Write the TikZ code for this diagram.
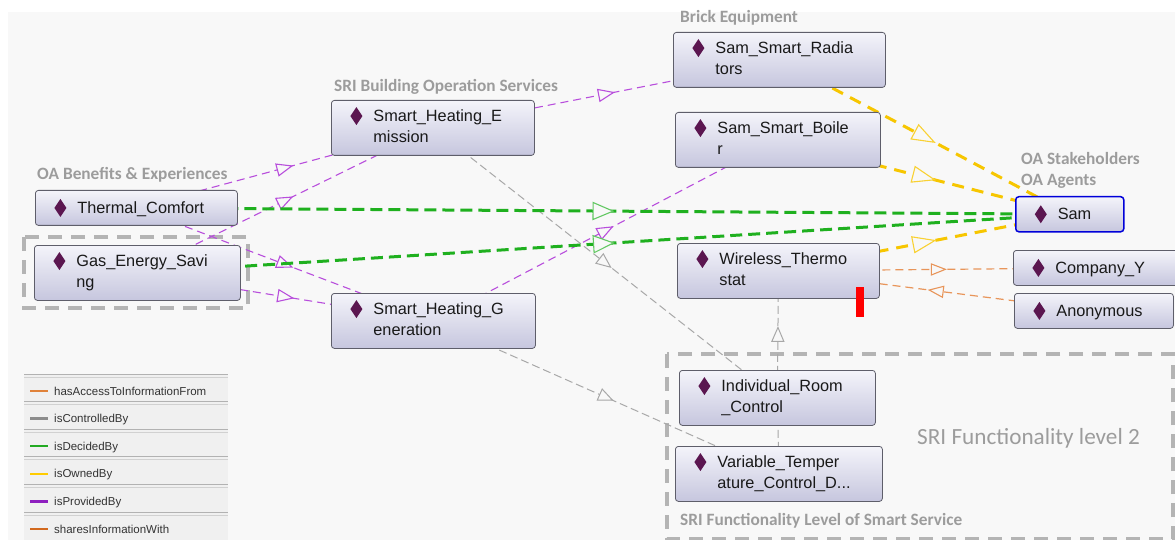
\documentclass[tikz,border=0pt]{standalone}
\usepackage{fontspec}
\setmainfont{Liberation Sans}
\newfontfamily\headfont{Carlito}
\usetikzlibrary{decorations.markings,backgrounds}

\definecolor{panel}{HTML}{F8F8F8}
\definecolor{legbg}{HTML}{F0F0F0}
\definecolor{boxtop}{HTML}{F4F4FA}
\definecolor{boxbot}{HTML}{C6C6DE}
\definecolor{boxline}{HTML}{5E5E6A}
\definecolor{diacol}{HTML}{5B1650}
\definecolor{headgray}{HTML}{9C9C9C}
\definecolor{provcol}{HTML}{B84EDC}
\definecolor{ctrlcol}{HTML}{A8A8A8}
\definecolor{decicol}{HTML}{1FB01F}
\definecolor{owncol}{HTML}{F7C600}
\definecolor{accesscol}{HTML}{E8955A}
\definecolor{framegray}{HTML}{B4B4B4}

% diamond in front of every individual
\newcommand{\dia}{\tikz[baseline=-5.5pt]\fill[diacol, sharp corners] (0pt,9pt)--(6pt,0pt)--(0pt,-9pt)--(-6pt,0pt)--cycle;}
\newcommand{\indiv}[2]{\begin{tabular}{@{}l@{\hspace{11pt}}l@{}}\dia&#1\\&#2\end{tabular}}
\newcommand{\indivone}[1]{\dia\hspace{11pt}#1}

\begin{document}
\begin{tikzpicture}[x=1pt,y=-1pt,
  box/.style={draw=boxline, line width=0.8pt, rounded corners=3pt, top color=boxtop, bottom color=boxbot,
    anchor=north west, inner xsep=19pt, inner ysep=0pt, minimum height=35pt, align=left,
    text=black!90, font=\fontsize{16.3}{21}\selectfont},
  tall/.style={minimum height=55pt},
  head/.style={anchor=base west, inner sep=0pt, text=headgray, font=\headfont\bfseries\fontsize{17.3}{21}\selectfont},
  frame/.style={draw=framegray, line width=4pt, dash pattern=on 14pt off 9pt},
  mid/.style n args={4}{postaction={decorate}, decoration={markings, mark=at position 0.5 with
    {\draw[draw=#1, solid, fill=panel, line width=#4, line join=miter] (#2,0pt) -- (-#2,#3) -- (-#2,-#3) -- cycle;}}},
  provby/.style={draw=provcol, line width=1.1pt, dash pattern=on 8pt off 5pt, mid={provcol}{7.5pt}{6pt}{1.1pt}},
  ctrlby/.style={draw=ctrlcol, line width=1pt, dash pattern=on 8pt off 4pt, mid={ctrlcol}{7pt}{6pt}{1pt}},
  decby/.style={draw=decicol, line width=3pt, dash pattern=on 12pt off 6pt, mid={decicol!70!white}{10pt}{8.5pt}{1.1pt}},
  ownby/.style={draw=owncol, line width=3pt, dash pattern=on 12pt off 8pt, mid={owncol!80!white}{11pt}{8pt}{1.1pt}},
  accessto/.style={draw=accesscol, line width=1.2pt, dash pattern=on 8pt off 5pt, mid={accesscol}{7pt}{5.5pt}{1.1pt}},
  legtext/.style={anchor=base west, inner sep=0pt, font=\fontsize{11.5}{13}\selectfont, text=black!80},
  legsep/.style={draw=black!30, line width=0.8pt}]
\useasboundingbox (0,0) rectangle (1175,540);

% individuals
\node[box, text width=164pt] (tc) at (35,190) {\indivone{Thermal\_Comfort}};
\node[box, tall, text width=168pt] (ges) at (34,245) {\indiv{Gas\_Energy\_Savi}{ng}};
\node[box, tall, text width=165pt] (she) at (331,100) {\indiv{Smart\_Heating\_E}{mission}};
\node[box, tall, text width=166pt] (shg) at (331,293) {\indiv{Smart\_Heating\_G}{eneration}};
\node[box, tall, text width=174pt] (ssr) at (673,32) {\indiv{Sam\_Smart\_Radia}{tors}};
\node[box, tall, text width=167pt] (ssb) at (675,112) {\indiv{Sam\_Smart\_Boile}{r}};
\node[box, tall, text width=164pt] (wt) at (677,243) {\indiv{Wireless\_Thermo}{stat}};
\node[box, tall, text width=158pt] (irc) at (679,370) {\indiv{Individual\_Room}{\_Control}};
\node[box, tall, text width=169pt] (vtc) at (675,446) {\indiv{Variable\_Temper}{ature\_Control\_D...}};
\node[box, draw=blue!85!black, line width=1.5pt, text width=70pt] (sam) at (1015,196) {\indivone{Sam}};
\node[box, text width=132pt] (cy) at (1013,250) {\indivone{Company\_Y}};
\node[box, text width=121pt] (anon) at (1014,293) {\indivone{Anonymous}};

\begin{scope}[on background layer]
% canvas
\fill[panel] (8,12) rectangle (1175,540);
\draw[frame] (24,237) rectangle (248,308);
\draw[frame] (667,354) rectangle (1173,539);
% relations
\draw[provby] (tc.center) -- (she.center);
\draw[provby] (ges.center) -- (she.center);
\draw[provby] (tc.center) -- (shg.center);
\draw[provby] (ges.center) -- (shg.center);
\draw[provby] (she.center) -- (ssr.center);
\draw[provby] (shg.center) -- (ssb.center);
\draw[ctrlby] (she.center) -- (irc.center);
\draw[ctrlby] (shg.center) -- (vtc.center);
\draw[ctrlby] (irc.center) -- (wt.center);
\draw[ctrlcol, line width=1pt, dash pattern=on 8pt off 4pt] (vtc.center) -- (irc.center);
\draw[decby] (tc.center) -- (sam.center);
\draw[decby] (ges.center) -- (sam.center);
\draw[ownby] (ssr.center) -- (sam.center);
\draw[ownby] (ssb.center) -- (sam.center);
\draw[ownby] (wt.center) -- (sam.center);
\draw[accessto] (wt.center) -- (cy.center);
\draw[accessto] (anon.center) -- (wt.center);
\end{scope}

\fill[red] (856,287) rectangle (864,317);

% labels
\node[head] (lbenefit) at (37,180) {OA Benefits \& Experiences};
\node[head] (lservice) at (334,92) {SRI Building Operation Services};
\node[head] (lbrick) at (680,23) {Brick Equipment};
\node[head] (lstake) at (1021,165) {OA Stakeholders};
\node[head] (lagent) at (1021,186) {OA Agents};
\node[head] (lfunc) at (680,525) {SRI Functionality Level of Smart Service};
\node[head, font=\headfont\fontsize{23.2}{26}\selectfont] (llevel) at (917,444) {SRI Functionality level 2};

% legend
\fill[legbg] (24,374) rectangle (228,540);
\foreach \rel/\col [count=\i] in {hasAccessToInformationFrom/E0823A, isControlledBy/8C8C8C,
    isDecidedBy/22AA22, isOwnedBy/FFCC00, isProvidedBy/8E1FBF, sharesInformationWith/D2691E}{
  \draw[legsep] (24,{374+(\i-1)*27.6}) -- (228,{374+(\i-1)*27.6});
  \draw[legsep, draw=black!18] (24,{377+(\i-1)*27.6}) -- (228,{377+(\i-1)*27.6});
  \definecolor{legcol}{HTML}{\col}
  \draw[legcol, line width=2.5pt] (30,{391+(\i-1)*27.6}) -- (48,{391+(\i-1)*27.6});
  \node[legtext] (leg\i) at (54,{395+(\i-1)*27.6}) {\rel};
}
\end{tikzpicture}
\end{document}
